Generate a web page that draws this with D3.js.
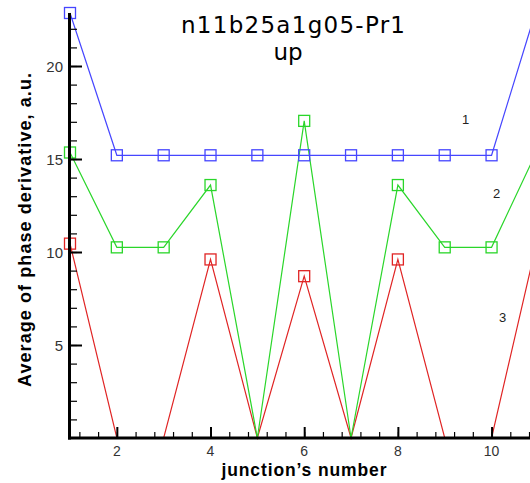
<!DOCTYPE html>
<html>
<head>
<meta charset="utf-8">
<script src="https://cdn.jsdelivr.net/npm/d3@7"></script>
<style>
  html, body { margin: 0; padding: 0; background: #fff; overflow: hidden; }
  svg { display: block; }
</style>
</head>
<body>
<script>
// Junction index along the chain
const junctions = [1, 2, 3, 4, 5, 6, 7, 8, 9, 10, 11];
// Average phase derivative per junction, one list per curve
const series1 = [22.85, 15.2, 15.2, 15.2, 15.2, 15.2, 15.2, 15.2, 15.2, 15.2, 23.4];
const series2 = [15.35, 10.25, 10.25, 13.6, 0, 17.05, 0, 13.6, 10.25, 10.25, 15.6];
const series3 = [10.45, 0, 0, 9.6, 0, 8.7, 0, 9.6, 0, 0, 10.9];
const seriesNames = ["1", "2", "3"];
const xTickLabels = [2, 4, 6, 8, 10];
const yTickLabels = [5, 10, 15, 20];

const W = 530, H = 483;
const svg = d3.select("body").append("svg").attr("width", W).attr("height", H);

const x = d3.scaleLinear().domain([1, 11]).range([70, 538.4]);
const y = d3.scaleLinear().domain([0, 22.85]).range([438, 13]);

const curves = [
  { name: seriesNames[0], values: series1, color: "#4646ff", lx: 465.7, ly: 119 },
  { name: seriesNames[1], values: series2, color: "#2ad62a", lx: 496.7, ly: 193 },
  { name: seriesNames[2], values: series3, color: "#e02424", lx: 502.7, ly: 317 }
];

const line = d3.line().x((d, i) => x(junctions[i])).y(d => y(d));

// curves, red first so blue ends up on top
const g = svg.append("g");
curves.slice().reverse().forEach(c => {
  g.append("path")
    .attr("d", line(c.values))
    .attr("fill", "none")
    .attr("stroke", c.color)
    .attr("stroke-width", 1.2);
  g.selectAll(null)
    .data(c.values.map((v, i) => ({ v, j: junctions[i] })).filter(d => d.v > 0))
    .enter().append("rect")
    .attr("x", d => x(d.j) - 5.5)
    .attr("y", d => y(d.v) - 5.5)
    .attr("width", 11).attr("height", 11)
    .attr("fill", "none")
    .attr("stroke", c.color)
    .attr("stroke-width", 1.3);
});

// curve numbers
svg.selectAll(".cname").data(curves).enter().append("text")
  .attr("x", d => d.lx).attr("y", d => d.ly + 4.5)
  .attr("text-anchor", "middle")
  .attr("font-family", "Liberation Sans, Arial, sans-serif")
  .attr("font-size", 13)
  .attr("fill", "#222")
  .text(d => d.name);

// y axis with inward ticks
const yAxisG = svg.append("g").attr("transform", `translate(${x(1)},0)`);
yAxisG.call(d3.axisRight(y).tickValues(d3.range(1, 23)).tickSize(7).tickFormat(""));
yAxisG.call(g2 => g2.select(".domain").remove());
yAxisG.selectAll(".tick line").attr("stroke", "#000").attr("stroke-width", 1.2);
const yMajor = svg.append("g").attr("transform", `translate(${x(1)},0)`);
yMajor.call(d3.axisRight(y).tickValues(yTickLabels).tickSize(12).tickFormat(""));
yMajor.call(g2 => g2.select(".domain").remove());
yMajor.selectAll(".tick line").attr("stroke", "#000").attr("stroke-width", 2);
svg.append("g").selectAll("text").data(yTickLabels).enter().append("text")
  .attr("x", 63).attr("y", d => y(d) + 6)
  .attr("text-anchor", "end")
  .attr("font-family", "Liberation Sans, Arial, sans-serif")
  .attr("font-size", 15)
  .attr("fill", "#333")
  .text(d => d);

// x axis with inward ticks
const xMinor = d3.range(12, 111, 4).map(v => v / 10);
const xAxisG = svg.append("g").attr("transform", `translate(0,${y(0)})`);
xAxisG.call(d3.axisTop(x).tickValues(xMinor).tickSize(6).tickFormat(""));
xAxisG.call(g2 => g2.select(".domain").remove());
xAxisG.selectAll(".tick line").attr("stroke", "#000").attr("stroke-width", 1.2);
const xMajor = svg.append("g").attr("transform", `translate(0,${y(0)})`);
xMajor.call(d3.axisTop(x).tickValues(xTickLabels).tickSize(11).tickFormat(""));
xMajor.call(g2 => g2.select(".domain").remove());
xMajor.selectAll(".tick line").attr("stroke", "#000").attr("stroke-width", 2);
svg.append("g").selectAll("text").data(xTickLabels).enter().append("text")
  .attr("x", d => x(d)).attr("y", 456)
  .attr("text-anchor", "middle")
  .attr("font-family", "Liberation Sans, Arial, sans-serif")
  .attr("font-size", 14)
  .attr("fill", "#333")
  .text(d => d);

// axis lines
svg.append("line")
  .attr("x1", x(1) - 0.5).attr("x2", x(1) - 0.5)
  .attr("y1", y(22.85)).attr("y2", y(0) + 1.5)
  .attr("stroke", "#000").attr("stroke-width", 3);
svg.append("line")
  .attr("x1", x(1) - 2).attr("x2", x(11))
  .attr("y1", y(0)).attr("y2", y(0))
  .attr("stroke", "#000").attr("stroke-width", 3);

// title
const titleFont = "DejaVu Sans, Liberation Sans, Arial, sans-serif";
svg.append("text")
  .attr("x", 293).attr("y", 33)
  .attr("text-anchor", "middle")
  .attr("font-family", titleFont)
  .attr("font-size", 23)
  .attr("textLength", 224).attr("lengthAdjust", "spacing")
  .attr("fill", "#000")
  .text("n11b25a1g05-Pr1");
svg.append("text")
  .attr("x", 288).attr("y", 60)
  .attr("text-anchor", "middle")
  .attr("font-family", titleFont)
  .attr("font-size", 23)
  .attr("fill", "#000")
  .text("up");

// axis titles
svg.append("text")
  .attr("x", 304).attr("y", 475.5)
  .attr("text-anchor", "middle")
  .attr("font-family", "Liberation Sans, Arial, sans-serif")
  .attr("font-weight", "bold")
  .attr("font-size", 17.5)
  .attr("textLength", 165).attr("lengthAdjust", "spacing")
  .attr("fill", "#000")
  .text("junction\u2019s number");
svg.append("text")
  .attr("transform", "translate(31,230) rotate(-90)")
  .attr("text-anchor", "middle")
  .attr("font-family", "Liberation Sans, Arial, sans-serif")
  .attr("font-weight", "bold")
  .attr("font-size", 18)
  .attr("textLength", 314).attr("lengthAdjust", "spacing")
  .attr("fill", "#000")
  .text("Average of phase derivative, a.u.");
</script>
</body>
</html>
